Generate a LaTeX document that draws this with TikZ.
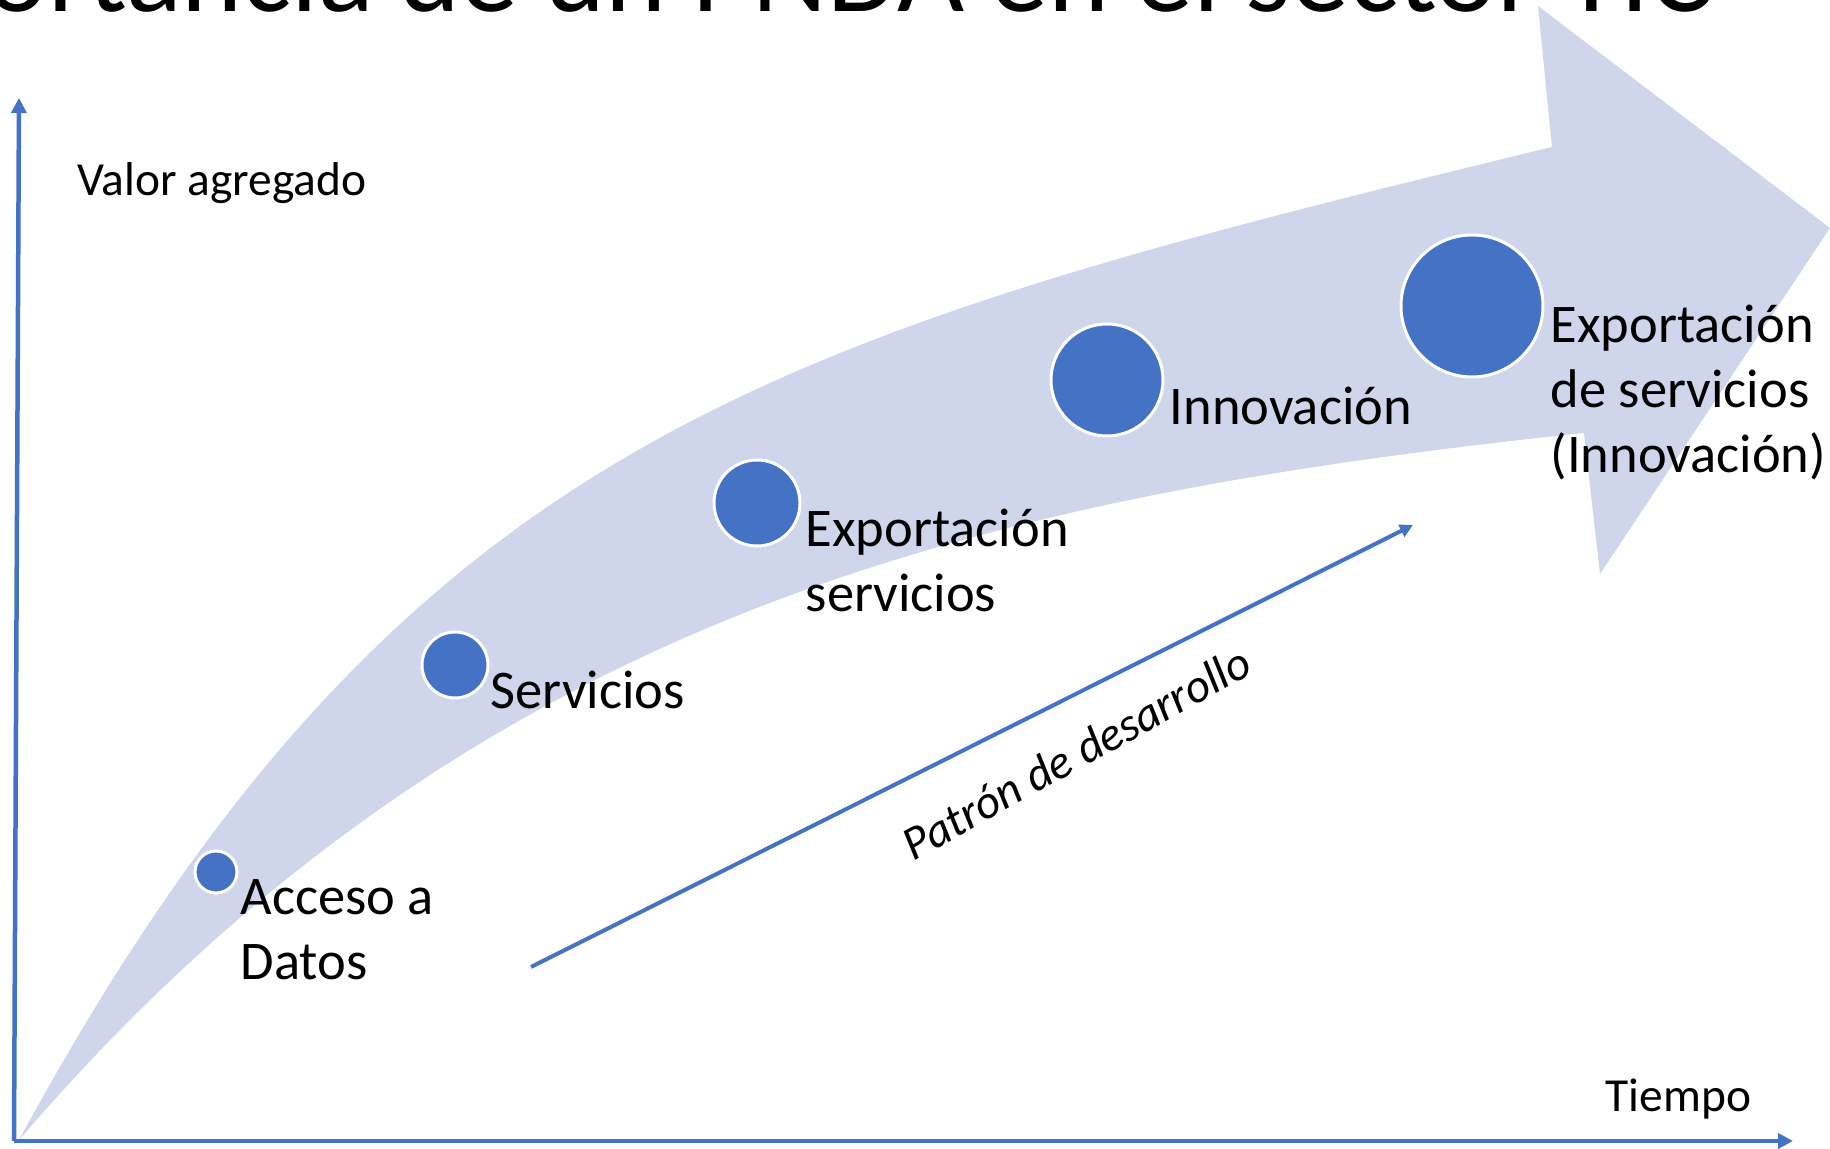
\documentclass[tikz,border=0pt]{standalone}
\usepackage{fontspec}
\setmainfont{Carlito}
\usetikzlibrary{
    arrows.meta,
    positioning
}
\definecolor{officeblue}{RGB}{68,114,196}
\definecolor{bandblue}{RGB}{207,213,234}
\tikzset{
    stage/.style={circle, fill=officeblue, draw=white, line width=0.3mm, inner sep=0pt},
    stagetext/.style={anchor=base west, inner sep=0pt, align=left, font=\fontsize{15.5}{18.5}\selectfont},
    axistext/.style={anchor=base west, inner sep=0pt, font=\fontsize{13.5}{16}\selectfont},
    axisline/.style={officeblue, line width=0.45mm, -{Triangle[length=1.5mm, width=1.5mm]}}
}
\begin{document}
\begin{tikzpicture}[x=0.1mm, y=-0.1mm]
    \useasboundingbox (0, 0) rectangle (1830, 1149);
    \node[anchor=base east, inner sep=0pt, font=\fontsize{33}{40}\selectfont] (title) at (1712, 12) {Importancia de un PNDA en el sector TIC};
    \fill[bandblue]
        (19, 1140) .. controls (401, 437) and (774, 336) .. (1552, 147)
        -- (1538, 6) -- (1830, 228) -- (1600, 574) -- (1584, 433)
        .. controls (988, 496) and (475, 609) .. (19, 1140)
        -- cycle;
    \coordinate (origin) at (14, 1141);
    \coordinate (ytop) at (19, 98);
    \coordinate (xend) at (1793, 1141);
    \draw[axisline] (origin) -- (ytop);
    \draw[axisline] (origin) -- (xend);
    \node[axistext] (ytxt) at (77, 196) {Valor agregado};
    \node[axistext] (xtxt) at (1605, 1112) {Tiempo};
    \node[stage, minimum size=4.2mm] (acc) at (216, 872) {};
    \node[stage, minimum size=6.6mm] (serv) at (455, 665) {};
    \node[stage, minimum size=8.6mm] (expo) at (757, 503) {};
    \node[stage, minimum size=11.2mm] (innov) at (1107, 380) {};
    \node[stage, minimum size=14.2mm] (expinn) at (1472, 306) {};
    \node[stagetext] (acctxt) at (240, 980) {Acceso a\\Datos};
    \node[stagetext] (servtxt) at (490, 709) {Servicios};
    \node[stagetext] (expotxt) at (805, 612) {Exportación\\servicios};
    \node[stagetext] (innovtxt) at (1169, 425) {Innovación};
    \node[stagetext] (expinntxt) at (1550, 473) {Exportación\\de servicios\\(Innovación)};
    \coordinate (pstart) at (531, 967);
    \coordinate (pend) at (1413, 525);
    \draw[officeblue, line width=0.4mm, -{Triangle[length=1.3mm, width=1.3mm]}] (pstart) -- (pend);
    \node[anchor=base, inner sep=0pt, rotate=29, font=\fontsize{13.5}{16}\selectfont\itshape] (ptxt) at (1084, 767) {Patrón de desarrollo};
\end{tikzpicture}
\end{document}
